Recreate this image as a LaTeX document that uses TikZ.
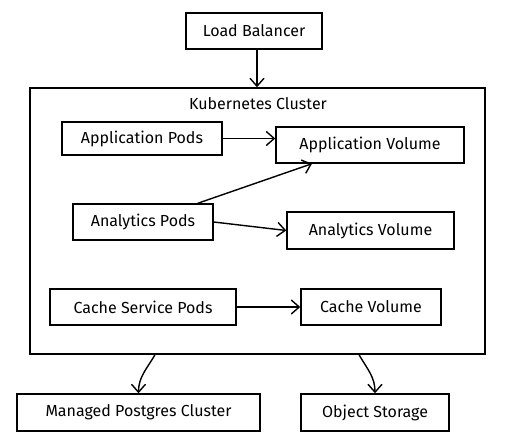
\documentclass[tikz,border=0pt]{standalone}
\usepackage{fontspec}
\setmainfont{Fira Sans}
\usetikzlibrary{arrows.meta, positioning}
\tikzstyle{box} = [rectangle, draw, line width=1.4pt, inner sep=0pt, font=\fontsize{16}{18}\selectfont]
\tikzstyle{line} = [draw, line width=1.4pt, -{Straight Barb[length=8pt, width=14pt]}]

\begin{document}
\begin{tikzpicture}[x=1pt, y=-1pt]
			\useasboundingbox [fill=white] (0,0) rectangle (513,446);
			\node [box, minimum width=136pt, minimum height=36pt] (lb) at (254, 31) {Load Balancer};
			\node [box, minimum width=455pt, minimum height=266pt] (cluster) at (257.5, 221) {};
			\node [font=\fontsize{16}{18}\selectfont] (title) at (258, 104) {Kubernetes Cluster};
			\node [box, minimum width=160pt, minimum height=33pt] (ap) at (142, 138.5) {Application Pods};
			\node [box, minimum width=188pt, minimum height=36pt] (av) at (370, 145) {Application Volume};
			\node [box, minimum width=140pt, minimum height=36pt] (anp) at (143, 222) {Analytics Pods};
			\node [box, minimum width=167pt, minimum height=37pt] (anv) at (370.5, 230.5) {Analytics Volume};
			\node [box, minimum width=186pt, minimum height=36pt] (csp) at (143, 307) {Cache Service Pods};
			\node [box, minimum width=140pt, minimum height=36pt] (cv) at (371, 307) {Cache Volume};
			\node [box, minimum width=243pt, minimum height=37pt] (mpc) at (138.5, 412.5) {Managed Postgres Cluster};
			\node [box, minimum width=148pt, minimum height=37pt] (os) at (375, 412.5) {Object Storage};

			\path [line] ([xshift=3pt]lb.south) -- ([xshift=3pt]lb.south |- cluster.north);
			\path [line] (ap.east) -- (ap.east -| av.west);
			\path [line] ([xshift=-16pt]anp.north east) -- ([xshift=-58pt]av.south);
			\path [line] (anp.east) -- (anv.west);
			\path [line] (csp.east) -- (cv.west);
			\path [line] ([xshift=-102.5pt]cluster.south) to [out=-120, in=90] (mpc.north);
			\path [line] ([xshift=101.5pt]cluster.south) to [out=-60, in=90] (os.north);
		\end{tikzpicture}
\end{document}
